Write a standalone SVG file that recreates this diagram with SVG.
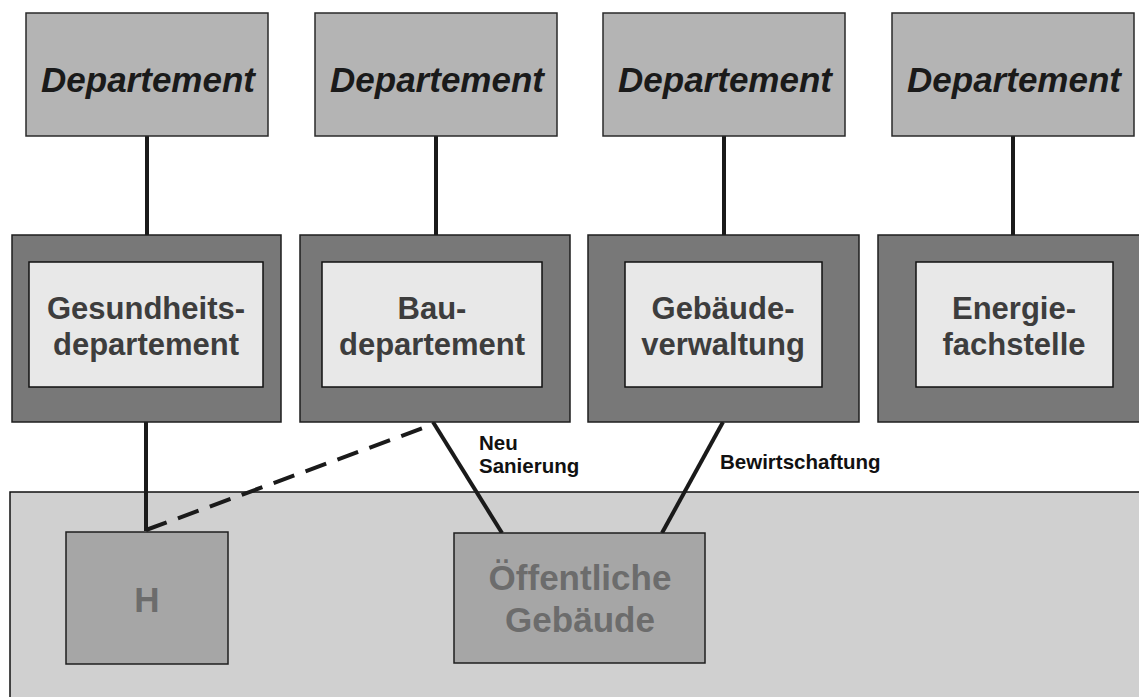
<svg xmlns="http://www.w3.org/2000/svg" width="1139" height="697" viewBox="0 0 1139 697">
<style>
.top{fill:#b4b4b4;stroke:#2a2a2a;stroke-width:1.5}
.outer{fill:#787878;stroke:#1e1e1e;stroke-width:1.5}
.inner{fill:#e8e8e8;stroke:#111;stroke-width:1.5}
.bld{fill:#a6a6a6;stroke:#1e1e1e;stroke-width:1.5}
.area{fill:#d0d0d0;stroke:#111;stroke-width:1.5}
.dep{font-family:"Liberation Sans",Arial,sans-serif;font-weight:bold;font-style:italic;font-size:35px;fill:#1a1a1a;text-anchor:middle}
.mid{font-family:"Liberation Sans",Arial,sans-serif;font-weight:bold;font-size:31px;fill:#3d3d3d;text-anchor:middle}
.bt{font-family:"Liberation Sans",Arial,sans-serif;font-weight:bold;font-size:35px;fill:#6c6c6c;text-anchor:middle}
.lab{font-family:"Liberation Sans",Arial,sans-serif;font-weight:bold;font-size:20.5px;fill:#111}
.con{stroke:#1a1a1a;stroke-width:4;fill:none}
.dash{stroke:#1a1a1a;stroke-width:4;fill:none;stroke-dasharray:22 12}
</style>
<rect width="1139" height="697" fill="#fff"/>
<g id="area"><rect class="area" x="10" y="492" width="1140" height="220"/></g>
<g id="connectors">
<line class="con" x1="147" y1="136" x2="147" y2="235"/>
<line class="con" x1="436" y1="136" x2="436" y2="235"/>
<line class="con" x1="724" y1="136" x2="724" y2="235"/>
<line class="con" x1="1013" y1="136" x2="1013" y2="235"/>
<line class="con" x1="146" y1="422" x2="146" y2="531"/>
<line class="dash" x1="146" y1="530" x2="434" y2="424"/>
<line class="con" x1="433" y1="422" x2="502" y2="533"/>
<line class="con" x1="723" y1="422" x2="662" y2="533"/>
</g>
<g id="dep1"><rect class="top" x="26" y="13" width="242" height="123"/><text class="dep" x="148" y="92">Departement</text></g>
<g id="dep2"><rect class="top" x="315" y="13" width="242" height="123"/><text class="dep" x="437" y="92">Departement</text></g>
<g id="dep3"><rect class="top" x="603" y="13" width="242" height="123"/><text class="dep" x="725" y="92">Departement</text></g>
<g id="dep4"><rect class="top" x="892" y="13" width="242" height="123"/><text class="dep" x="1014" y="92">Departement</text></g>
<g id="gesundheit"><rect class="outer" x="12" y="235" width="269" height="187"/><rect class="inner" x="29" y="262" width="234" height="125"/><text class="mid" x="146" y="319">Gesundheits-</text><text class="mid" x="146" y="355">departement</text></g>
<g id="bau"><rect class="outer" x="300" y="235" width="270" height="187"/><rect class="inner" x="322" y="262" width="220" height="125"/><text class="mid" x="432" y="319">Bau-</text><text class="mid" x="432" y="355">departement</text></g>
<g id="gebaeudeverwaltung"><rect class="outer" x="588" y="235" width="271" height="187"/><rect class="inner" x="625" y="262" width="197" height="125"/><text class="mid" x="723" y="319">Gebäude-</text><text class="mid" x="723" y="355">verwaltung</text></g>
<g id="energie"><rect class="outer" x="878" y="235" width="270" height="187"/><rect class="inner" x="916" y="262" width="197" height="125"/><text class="mid" x="1014" y="319">Energie-</text><text class="mid" x="1014" y="355">fachstelle</text></g>
<g id="h"><rect class="bld" x="66" y="532" width="162" height="132"/><text class="bt" x="147" y="612">H</text></g>
<g id="oeffentliche"><rect class="bld" x="454" y="533" width="251" height="130"/><text class="bt" x="580" y="590">Öffentliche</text><text class="bt" x="580" y="632">Gebäude</text></g>
<g id="labels">
<text class="lab" x="479" y="450">Neu</text>
<text class="lab" x="479" y="473">Sanierung</text>
<text class="lab" x="720" y="469">Bewirtschaftung</text>
</g>
</svg>
